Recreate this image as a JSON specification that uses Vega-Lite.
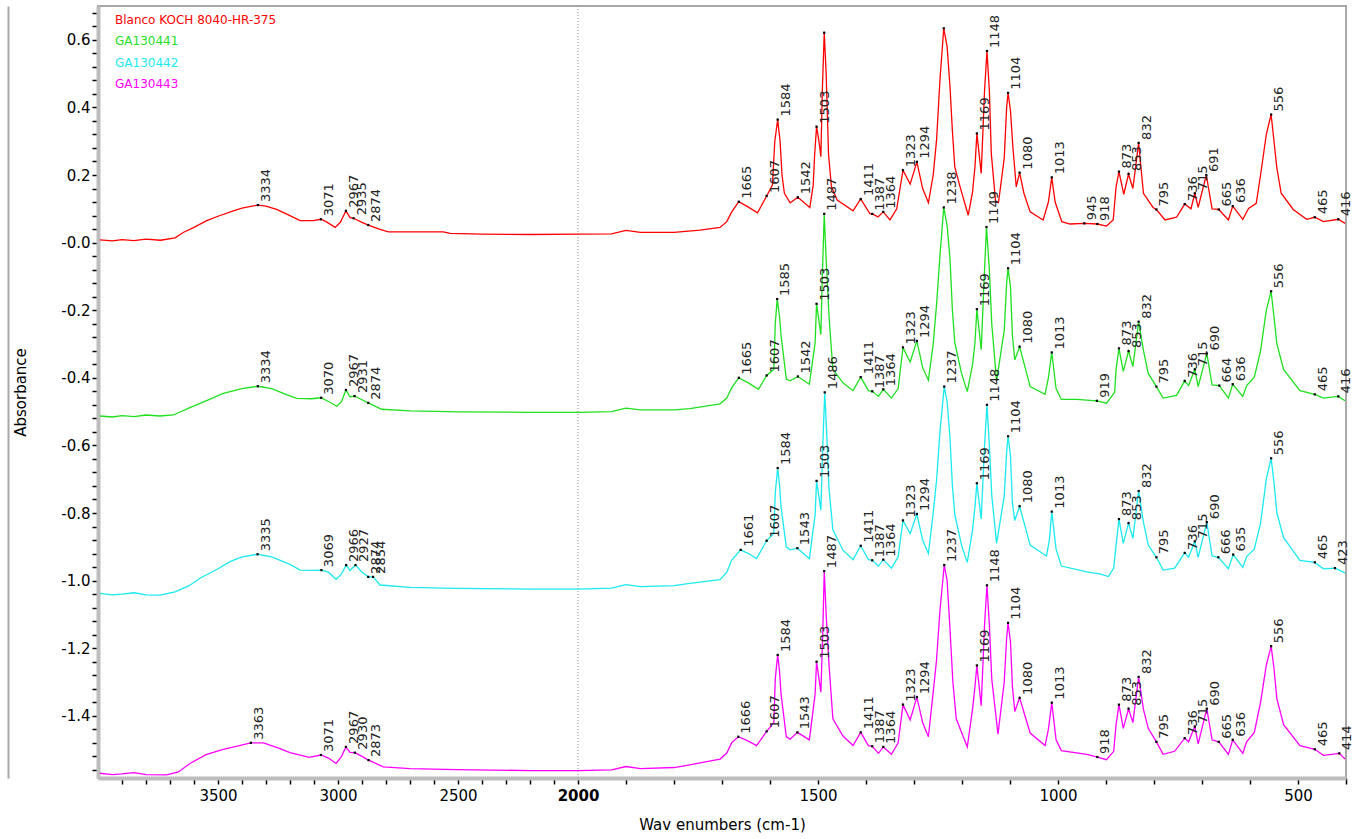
{
 "$schema": "https://vega.github.io/schema/vega-lite/v6.json",
 "width": 1248, "height": 772,
 "autosize": {"type": "none"},
 "padding": {"left": 98, "top": 6, "right": 12, "bottom": 61},
 "background": "white",
 "config": {"view": {"stroke": "#a8a8a8", "strokeWidth": 2}, "font": "DejaVu Sans", "axis": {"labelOverlap": false, "domain": true, "ticks": true}},
 "datasets": {
  "spec": [
{"s":"r","w":3992,"a":0.008},{"s":"r","w":3940,"a":0.005},{"s":"r","w":3900,"a":0.009},{"s":"r","w":3850,"a":0.006},{"s":"r","w":3800,"a":0.01},{"s":"r","w":3740,"a":0.007},{"s":"r","w":3679,"a":0.014},{"s":"r","w":3645,"a":0.03},{"s":"r","w":3600,"a":0.045},{"s":"r","w":3547,"a":0.065},{"s":"r","w":3500,"a":0.078},{"s":"r","w":3436,"a":0.094},{"s":"r","w":3400,"a":0.102},{"s":"r","w":3334,"a":0.111},{"s":"r","w":3300,"a":0.108},{"s":"r","w":3256,"a":0.098},{"s":"r","w":3200,"a":0.08},{"s":"r","w":3158,"a":0.065},{"s":"r","w":3103,"a":0.065},{"s":"r","w":3071,"a":0.069},{"s":"r","w":3050,"a":0.062},{"s":"r","w":3012,"a":0.045},{"s":"r","w":2990,"a":0.06},{"s":"r","w":2967,"a":0.094},{"s":"r","w":2950,"a":0.074},{"s":"r","w":2935,"a":0.072},{"s":"r","w":2900,"a":0.06},{"s":"r","w":2874,"a":0.052},{"s":"r","w":2825,"a":0.039},{"s":"r","w":2790,"a":0.032},{"s":"r","w":2700,"a":0.032},{"s":"r","w":2561,"a":0.032},{"s":"r","w":2533,"a":0.027},{"s":"r","w":2400,"a":0.025},{"s":"r","w":2200,"a":0.024},{"s":"r","w":2000,"a":0.025},{"s":"r","w":1930,"a":0.026},{"s":"r","w":1900,"a":0.036},{"s":"r","w":1870,"a":0.03},{"s":"r","w":1800,"a":0.03},{"s":"r","w":1746,"a":0.037},{"s":"r","w":1704,"a":0.045},{"s":"r","w":1690,"a":0.062},{"s":"r","w":1680,"a":0.09},{"s":"r","w":1665,"a":0.121},{"s":"r","w":1645,"a":0.105},{"s":"r","w":1626,"a":0.088},{"s":"r","w":1607,"a":0.138},{"s":"r","w":1595,"a":0.17},{"s":"r","w":1590,"a":0.3},{"s":"r","w":1584,"a":0.364},{"s":"r","w":1579,"a":0.3},{"s":"r","w":1575,"a":0.2},{"s":"r","w":1570,"a":0.146},{"s":"r","w":1558,"a":0.118},{"s":"r","w":1542,"a":0.134},{"s":"r","w":1517,"a":0.104},{"s":"r","w":1510,"a":0.17},{"s":"r","w":1507,"a":0.26},{"s":"r","w":1503,"a":0.343},{"s":"r","w":1498,"a":0.3},{"s":"r","w":1494,"a":0.254},{"s":"r","w":1491,"a":0.45},{"s":"r","w":1487,"a":0.621},{"s":"r","w":1483,"a":0.5},{"s":"r","w":1478,"a":0.26},{"s":"r","w":1472,"a":0.165},{"s":"r","w":1460,"a":0.126},{"s":"r","w":1427,"a":0.094},{"s":"r","w":1411,"a":0.129},{"s":"r","w":1392,"a":0.086},{"s":"r","w":1387,"a":0.085},{"s":"r","w":1375,"a":0.076},{"s":"r","w":1364,"a":0.091},{"s":"r","w":1350,"a":0.067},{"s":"r","w":1336,"a":0.1},{"s":"r","w":1323,"a":0.214},{"s":"r","w":1308,"a":0.173},{"s":"r","w":1294,"a":0.239},{"s":"r","w":1282,"a":0.16},{"s":"r","w":1270,"a":0.118},{"s":"r","w":1260,"a":0.2},{"s":"r","w":1253,"a":0.303},{"s":"r","w":1246,"a":0.48},{"s":"r","w":1238,"a":0.634},{"s":"r","w":1231,"a":0.58},{"s":"r","w":1225,"a":0.461},{"s":"r","w":1220,"a":0.33},{"s":"r","w":1215,"a":0.224},{"s":"r","w":1204,"a":0.165},{"s":"r","w":1187,"a":0.081},{"s":"r","w":1178,"a":0.15},{"s":"r","w":1173,"a":0.224},{"s":"r","w":1169,"a":0.323},{"s":"r","w":1160,"a":0.205},{"s":"r","w":1153,"a":0.45},{"s":"r","w":1148,"a":0.567},{"s":"r","w":1143,"a":0.45},{"s":"r","w":1139,"a":0.264},{"s":"r","w":1130,"a":0.121},{"s":"r","w":1124,"a":0.118},{"s":"r","w":1112,"a":0.25},{"s":"r","w":1107,"a":0.4},{"s":"r","w":1104,"a":0.443},{"s":"r","w":1099,"a":0.39},{"s":"r","w":1094,"a":0.283},{"s":"r","w":1087,"a":0.165},{"s":"r","w":1080,"a":0.207},{"s":"r","w":1071,"a":0.146},{"s":"r","w":1058,"a":0.091},{"s":"r","w":1031,"a":0.067},{"s":"r","w":1020,"a":0.12},{"s":"r","w":1013,"a":0.193},{"s":"r","w":1006,"a":0.12},{"s":"r","w":992,"a":0.062},{"s":"r","w":975,"a":0.055},{"s":"r","w":945,"a":0.057},{"s":"r","w":918,"a":0.055},{"s":"r","w":899,"a":0.049},{"s":"r","w":885,"a":0.067},{"s":"r","w":879,"a":0.165},{"s":"r","w":873,"a":0.21},{"s":"r","w":863,"a":0.143},{"s":"r","w":853,"a":0.203},{"s":"r","w":844,"a":0.16},{"s":"r","w":832,"a":0.295},{"s":"r","w":822,"a":0.146},{"s":"r","w":802,"a":0.104},{"s":"r","w":795,"a":0.098},{"s":"r","w":777,"a":0.067},{"s":"r","w":753,"a":0.075},{"s":"r","w":736,"a":0.114},{"s":"r","w":723,"a":0.1},{"s":"r","w":715,"a":0.146},{"s":"r","w":708,"a":0.104},{"s":"r","w":691,"a":0.2},{"s":"r","w":679,"a":0.1},{"s":"r","w":665,"a":0.098},{"s":"r","w":645,"a":0.067},{"s":"r","w":636,"a":0.108},{"s":"r","w":615,"a":0.069},{"s":"r","w":603,"a":0.101},{"s":"r","w":587,"a":0.116},{"s":"r","w":578,"a":0.2},{"s":"r","w":566,"a":0.32},{"s":"r","w":556,"a":0.379},{"s":"r","w":550,"a":0.3},{"s":"r","w":544,"a":0.22},{"s":"r","w":535,"a":0.146},{"s":"r","w":510,"a":0.098},{"s":"r","w":482,"a":0.069},{"s":"r","w":465,"a":0.075},{"s":"r","w":447,"a":0.062},{"s":"r","w":416,"a":0.069},{"s":"r","w":402,"a":0.057},
{"s":"g","w":3992,"a":-0.513},{"s":"g","w":3940,"a":-0.516},{"s":"g","w":3900,"a":-0.512},{"s":"g","w":3850,"a":-0.515},{"s":"g","w":3800,"a":-0.51},{"s":"g","w":3742,"a":-0.513},{"s":"g","w":3686,"a":-0.51},{"s":"g","w":3617,"a":-0.488},{"s":"g","w":3550,"a":-0.468},{"s":"g","w":3478,"a":-0.446},{"s":"g","w":3400,"a":-0.432},{"s":"g","w":3334,"a":-0.425},{"s":"g","w":3276,"a":-0.432},{"s":"g","w":3220,"a":-0.448},{"s":"g","w":3172,"a":-0.461},{"s":"g","w":3110,"a":-0.462},{"s":"g","w":3070,"a":-0.459},{"s":"g","w":3040,"a":-0.47},{"s":"g","w":3005,"a":-0.484},{"s":"g","w":2985,"a":-0.47},{"s":"g","w":2967,"a":-0.436},{"s":"g","w":2950,"a":-0.456},{"s":"g","w":2931,"a":-0.454},{"s":"g","w":2900,"a":-0.465},{"s":"g","w":2874,"a":-0.474},{"s":"g","w":2818,"a":-0.493},{"s":"g","w":2700,"a":-0.498},{"s":"g","w":2492,"a":-0.501},{"s":"g","w":2200,"a":-0.502},{"s":"g","w":2000,"a":-0.502},{"s":"g","w":1930,"a":-0.5},{"s":"g","w":1900,"a":-0.49},{"s":"g","w":1870,"a":-0.495},{"s":"g","w":1800,"a":-0.495},{"s":"g","w":1767,"a":-0.491},{"s":"g","w":1704,"a":-0.477},{"s":"g","w":1690,"a":-0.46},{"s":"g","w":1680,"a":-0.43},{"s":"g","w":1665,"a":-0.4},{"s":"g","w":1645,"a":-0.415},{"s":"g","w":1624,"a":-0.434},{"s":"g","w":1607,"a":-0.393},{"s":"g","w":1592,"a":-0.375},{"s":"g","w":1589,"a":-0.24},{"s":"g","w":1585,"a":-0.167},{"s":"g","w":1580,"a":-0.22},{"s":"g","w":1577,"a":-0.274},{"s":"g","w":1566,"a":-0.404},{"s":"g","w":1558,"a":-0.409},{"s":"g","w":1542,"a":-0.396},{"s":"g","w":1518,"a":-0.419},{"s":"g","w":1506,"a":-0.296},{"s":"g","w":1503,"a":-0.181},{"s":"g","w":1494,"a":-0.272},{"s":"g","w":1491,"a":-0.1},{"s":"g","w":1487,"a":0.085},{"s":"g","w":1483,"a":-0.05},{"s":"g","w":1477,"a":-0.22},{"s":"g","w":1469,"a":-0.375},{"s":"g","w":1448,"a":-0.415},{"s":"g","w":1427,"a":-0.438},{"s":"g","w":1411,"a":-0.398},{"s":"g","w":1395,"a":-0.438},{"s":"g","w":1387,"a":-0.44},{"s":"g","w":1374,"a":-0.455},{"s":"g","w":1364,"a":-0.434},{"s":"g","w":1347,"a":-0.46},{"s":"g","w":1333,"a":-0.432},{"s":"g","w":1323,"a":-0.31},{"s":"g","w":1308,"a":-0.353},{"s":"g","w":1294,"a":-0.291},{"s":"g","w":1282,"a":-0.37},{"s":"g","w":1270,"a":-0.407},{"s":"g","w":1260,"a":-0.3},{"s":"g","w":1253,"a":-0.183},{"s":"g","w":1246,"a":-0.04},{"s":"g","w":1238,"a":0.104},{"s":"g","w":1231,"a":0.05},{"s":"g","w":1225,"a":-0.048},{"s":"g","w":1220,"a":-0.2},{"s":"g","w":1215,"a":-0.296},{"s":"g","w":1201,"a":-0.387},{"s":"g","w":1189,"a":-0.441},{"s":"g","w":1178,"a":-0.36},{"s":"g","w":1173,"a":-0.296},{"s":"g","w":1169,"a":-0.197},{"s":"g","w":1160,"a":-0.317},{"s":"g","w":1153,"a":-0.08},{"s":"g","w":1149,"a":0.046},{"s":"g","w":1143,"a":-0.08},{"s":"g","w":1138,"a":-0.24},{"s":"g","w":1128,"a":-0.409},{"s":"g","w":1112,"a":-0.26},{"s":"g","w":1107,"a":-0.12},{"s":"g","w":1104,"a":-0.076},{"s":"g","w":1099,"a":-0.13},{"s":"g","w":1095,"a":-0.274},{"s":"g","w":1090,"a":-0.347},{"s":"g","w":1080,"a":-0.308},{"s":"g","w":1058,"a":-0.426},{"s":"g","w":1027,"a":-0.449},{"s":"g","w":1020,"a":-0.4},{"s":"g","w":1013,"a":-0.325},{"s":"g","w":1004,"a":-0.432},{"s":"g","w":993,"a":-0.464},{"s":"g","w":961,"a":-0.464},{"s":"g","w":919,"a":-0.468},{"s":"g","w":899,"a":-0.475},{"s":"g","w":882,"a":-0.443},{"s":"g","w":879,"a":-0.375},{"s":"g","w":873,"a":-0.313},{"s":"g","w":864,"a":-0.381},{"s":"g","w":853,"a":-0.321},{"s":"g","w":844,"a":-0.367},{"s":"g","w":832,"a":-0.234},{"s":"g","w":822,"a":-0.319},{"s":"g","w":812,"a":-0.387},{"s":"g","w":795,"a":-0.426},{"s":"g","w":781,"a":-0.46},{"s":"g","w":753,"a":-0.452},{"s":"g","w":736,"a":-0.409},{"s":"g","w":728,"a":-0.423},{"s":"g","w":715,"a":-0.375},{"s":"g","w":708,"a":-0.426},{"s":"g","w":690,"a":-0.328},{"s":"g","w":679,"a":-0.421},{"s":"g","w":664,"a":-0.423},{"s":"g","w":645,"a":-0.46},{"s":"g","w":636,"a":-0.419},{"s":"g","w":615,"a":-0.455},{"s":"g","w":607,"a":-0.423},{"s":"g","w":591,"a":-0.398},{"s":"g","w":578,"a":-0.32},{"s":"g","w":566,"a":-0.2},{"s":"g","w":556,"a":-0.144},{"s":"g","w":550,"a":-0.22},{"s":"g","w":544,"a":-0.3},{"s":"g","w":530,"a":-0.375},{"s":"g","w":496,"a":-0.438},{"s":"g","w":465,"a":-0.449},{"s":"g","w":447,"a":-0.46},{"s":"g","w":416,"a":-0.455},{"s":"g","w":402,"a":-0.468},
{"s":"c","w":3992,"a":-1.038},{"s":"c","w":3940,"a":-1.042},{"s":"c","w":3900,"a":-1.04},{"s":"c","w":3850,"a":-1.036},{"s":"c","w":3800,"a":-1.042},{"s":"c","w":3742,"a":-1.043},{"s":"c","w":3679,"a":-1.033},{"s":"c","w":3620,"a":-1.015},{"s":"c","w":3575,"a":-0.993},{"s":"c","w":3500,"a":-0.965},{"s":"c","w":3450,"a":-0.944},{"s":"c","w":3400,"a":-0.93},{"s":"c","w":3335,"a":-0.922},{"s":"c","w":3276,"a":-0.93},{"s":"c","w":3200,"a":-0.952},{"s":"c","w":3158,"a":-0.969},{"s":"c","w":3100,"a":-0.97},{"s":"c","w":3069,"a":-0.969},{"s":"c","w":3040,"a":-0.975},{"s":"c","w":3008,"a":-0.996},{"s":"c","w":2985,"a":-0.98},{"s":"c","w":2966,"a":-0.954},{"s":"c","w":2950,"a":-0.97},{"s":"c","w":2927,"a":-0.954},{"s":"c","w":2900,"a":-0.975},{"s":"c","w":2874,"a":-0.989},{"s":"c","w":2854,"a":-0.989},{"s":"c","w":2825,"a":-1.013},{"s":"c","w":2700,"a":-1.02},{"s":"c","w":2505,"a":-1.023},{"s":"c","w":2200,"a":-1.025},{"s":"c","w":2000,"a":-1.025},{"s":"c","w":1930,"a":-1.022},{"s":"c","w":1900,"a":-1.012},{"s":"c","w":1870,"a":-1.018},{"s":"c","w":1800,"a":-1.015},{"s":"c","w":1767,"a":-1.008},{"s":"c","w":1704,"a":-0.997},{"s":"c","w":1690,"a":-0.975},{"s":"c","w":1680,"a":-0.94},{"s":"c","w":1661,"a":-0.909},{"s":"c","w":1645,"a":-0.92},{"s":"c","w":1628,"a":-0.935},{"s":"c","w":1607,"a":-0.882},{"s":"c","w":1592,"a":-0.86},{"s":"c","w":1589,"a":-0.74},{"s":"c","w":1584,"a":-0.667},{"s":"c","w":1580,"a":-0.72},{"s":"c","w":1577,"a":-0.782},{"s":"c","w":1566,"a":-0.901},{"s":"c","w":1558,"a":-0.909},{"s":"c","w":1543,"a":-0.904},{"s":"c","w":1518,"a":-0.935},{"s":"c","w":1506,"a":-0.805},{"s":"c","w":1503,"a":-0.705},{"s":"c","w":1494,"a":-0.791},{"s":"c","w":1490,"a":-0.6},{"s":"c","w":1486,"a":-0.443},{"s":"c","w":1482,"a":-0.56},{"s":"c","w":1477,"a":-0.73},{"s":"c","w":1469,"a":-0.85},{"s":"c","w":1448,"a":-0.91},{"s":"c","w":1427,"a":-0.938},{"s":"c","w":1411,"a":-0.897},{"s":"c","w":1395,"a":-0.938},{"s":"c","w":1387,"a":-0.94},{"s":"c","w":1374,"a":-0.957},{"s":"c","w":1364,"a":-0.938},{"s":"c","w":1347,"a":-0.963},{"s":"c","w":1333,"a":-0.93},{"s":"c","w":1323,"a":-0.822},{"s":"c","w":1308,"a":-0.861},{"s":"c","w":1294,"a":-0.803},{"s":"c","w":1282,"a":-0.88},{"s":"c","w":1270,"a":-0.92},{"s":"c","w":1260,"a":-0.8},{"s":"c","w":1253,"a":-0.703},{"s":"c","w":1246,"a":-0.56},{"s":"c","w":1237,"a":-0.426},{"s":"c","w":1231,"a":-0.47},{"s":"c","w":1225,"a":-0.579},{"s":"c","w":1220,"a":-0.72},{"s":"c","w":1215,"a":-0.805},{"s":"c","w":1201,"a":-0.895},{"s":"c","w":1189,"a":-0.946},{"s":"c","w":1178,"a":-0.85},{"s":"c","w":1173,"a":-0.782},{"s":"c","w":1169,"a":-0.712},{"s":"c","w":1160,"a":-0.818},{"s":"c","w":1153,"a":-0.6},{"s":"c","w":1148,"a":-0.48},{"s":"c","w":1143,"a":-0.6},{"s":"c","w":1138,"a":-0.748},{"s":"c","w":1128,"a":-0.89},{"s":"c","w":1112,"a":-0.75},{"s":"c","w":1107,"a":-0.62},{"s":"c","w":1104,"a":-0.573},{"s":"c","w":1099,"a":-0.63},{"s":"c","w":1095,"a":-0.771},{"s":"c","w":1090,"a":-0.822},{"s":"c","w":1080,"a":-0.78},{"s":"c","w":1058,"a":-0.895},{"s":"c","w":1024,"a":-0.927},{"s":"c","w":1018,"a":-0.88},{"s":"c","w":1013,"a":-0.796},{"s":"c","w":1004,"a":-0.907},{"s":"c","w":993,"a":-0.957},{"s":"c","w":940,"a":-0.974},{"s":"c","w":913,"a":-0.98},{"s":"c","w":895,"a":-0.988},{"s":"c","w":884,"a":-0.963},{"s":"c","w":879,"a":-0.895},{"s":"c","w":873,"a":-0.818},{"s":"c","w":864,"a":-0.89},{"s":"c","w":853,"a":-0.83},{"s":"c","w":844,"a":-0.875},{"s":"c","w":832,"a":-0.735},{"s":"c","w":822,"a":-0.827},{"s":"c","w":812,"a":-0.895},{"s":"c","w":795,"a":-0.931},{"s":"c","w":781,"a":-0.969},{"s":"c","w":757,"a":-0.963},{"s":"c","w":736,"a":-0.918},{"s":"c","w":728,"a":-0.931},{"s":"c","w":715,"a":-0.884},{"s":"c","w":708,"a":-0.931},{"s":"c","w":690,"a":-0.827},{"s":"c","w":679,"a":-0.927},{"s":"c","w":666,"a":-0.931},{"s":"c","w":645,"a":-0.965},{"s":"c","w":635,"a":-0.923},{"s":"c","w":615,"a":-0.961},{"s":"c","w":607,"a":-0.929},{"s":"c","w":591,"a":-0.907},{"s":"c","w":578,"a":-0.83},{"s":"c","w":566,"a":-0.7},{"s":"c","w":556,"a":-0.638},{"s":"c","w":550,"a":-0.71},{"s":"c","w":544,"a":-0.8},{"s":"c","w":530,"a":-0.873},{"s":"c","w":496,"a":-0.94},{"s":"c","w":465,"a":-0.946},{"s":"c","w":447,"a":-0.965},{"s":"c","w":423,"a":-0.963},{"s":"c","w":402,"a":-0.977},
{"s":"m","w":3992,"a":-1.57},{"s":"m","w":3940,"a":-1.574},{"s":"m","w":3900,"a":-1.572},{"s":"m","w":3850,"a":-1.568},{"s":"m","w":3800,"a":-1.574},{"s":"m","w":3714,"a":-1.575},{"s":"m","w":3665,"a":-1.566},{"s":"m","w":3617,"a":-1.541},{"s":"m","w":3550,"a":-1.515},{"s":"m","w":3478,"a":-1.499},{"s":"m","w":3420,"a":-1.49},{"s":"m","w":3363,"a":-1.48},{"s":"m","w":3311,"a":-1.48},{"s":"m","w":3250,"a":-1.495},{"s":"m","w":3200,"a":-1.509},{"s":"m","w":3120,"a":-1.523},{"s":"m","w":3071,"a":-1.516},{"s":"m","w":3040,"a":-1.525},{"s":"m","w":3008,"a":-1.541},{"s":"m","w":2985,"a":-1.52},{"s":"m","w":2967,"a":-1.492},{"s":"m","w":2950,"a":-1.508},{"s":"m","w":2930,"a":-1.509},{"s":"m","w":2900,"a":-1.52},{"s":"m","w":2873,"a":-1.531},{"s":"m","w":2811,"a":-1.551},{"s":"m","w":2700,"a":-1.556},{"s":"m","w":2505,"a":-1.559},{"s":"m","w":2200,"a":-1.562},{"s":"m","w":2000,"a":-1.562},{"s":"m","w":1930,"a":-1.56},{"s":"m","w":1900,"a":-1.55},{"s":"m","w":1870,"a":-1.556},{"s":"m","w":1800,"a":-1.553},{"s":"m","w":1767,"a":-1.545},{"s":"m","w":1704,"a":-1.528},{"s":"m","w":1690,"a":-1.51},{"s":"m","w":1680,"a":-1.48},{"s":"m","w":1666,"a":-1.462},{"s":"m","w":1645,"a":-1.475},{"s":"m","w":1628,"a":-1.488},{"s":"m","w":1607,"a":-1.446},{"s":"m","w":1592,"a":-1.42},{"s":"m","w":1589,"a":-1.29},{"s":"m","w":1584,"a":-1.22},{"s":"m","w":1580,"a":-1.27},{"s":"m","w":1577,"a":-1.336},{"s":"m","w":1566,"a":-1.462},{"s":"m","w":1558,"a":-1.469},{"s":"m","w":1543,"a":-1.449},{"s":"m","w":1518,"a":-1.471},{"s":"m","w":1506,"a":-1.336},{"s":"m","w":1503,"a":-1.24},{"s":"m","w":1494,"a":-1.33},{"s":"m","w":1490,"a":-1.15},{"s":"m","w":1487,"a":-0.972},{"s":"m","w":1483,"a":-1.1},{"s":"m","w":1477,"a":-1.25},{"s":"m","w":1469,"a":-1.409},{"s":"m","w":1448,"a":-1.46},{"s":"m","w":1427,"a":-1.488},{"s":"m","w":1411,"a":-1.449},{"s":"m","w":1395,"a":-1.488},{"s":"m","w":1387,"a":-1.49},{"s":"m","w":1374,"a":-1.511},{"s":"m","w":1364,"a":-1.492},{"s":"m","w":1347,"a":-1.514},{"s":"m","w":1333,"a":-1.48},{"s":"m","w":1323,"a":-1.367},{"s":"m","w":1308,"a":-1.412},{"s":"m","w":1294,"a":-1.345},{"s":"m","w":1282,"a":-1.42},{"s":"m","w":1270,"a":-1.462},{"s":"m","w":1260,"a":-1.33},{"s":"m","w":1253,"a":-1.234},{"s":"m","w":1246,"a":-1.09},{"s":"m","w":1237,"a":-0.954},{"s":"m","w":1231,"a":-1.0},{"s":"m","w":1225,"a":-1.144},{"s":"m","w":1219,"a":-1.3},{"s":"m","w":1212,"a":-1.409},{"s":"m","w":1189,"a":-1.492},{"s":"m","w":1178,"a":-1.38},{"s":"m","w":1173,"a":-1.313},{"s":"m","w":1169,"a":-1.251},{"s":"m","w":1160,"a":-1.37},{"s":"m","w":1153,"a":-1.13},{"s":"m","w":1148,"a":-1.014},{"s":"m","w":1143,"a":-1.13},{"s":"m","w":1138,"a":-1.291},{"s":"m","w":1125,"a":-1.454},{"s":"m","w":1112,"a":-1.3},{"s":"m","w":1107,"a":-1.17},{"s":"m","w":1104,"a":-1.125},{"s":"m","w":1099,"a":-1.18},{"s":"m","w":1095,"a":-1.313},{"s":"m","w":1090,"a":-1.387},{"s":"m","w":1080,"a":-1.347},{"s":"m","w":1058,"a":-1.451},{"s":"m","w":1027,"a":-1.488},{"s":"m","w":1020,"a":-1.44},{"s":"m","w":1013,"a":-1.361},{"s":"m","w":1004,"a":-1.471},{"s":"m","w":993,"a":-1.503},{"s":"m","w":940,"a":-1.514},{"s":"m","w":918,"a":-1.522},{"s":"m","w":899,"a":-1.53},{"s":"m","w":884,"a":-1.505},{"s":"m","w":879,"a":-1.426},{"s":"m","w":873,"a":-1.367},{"s":"m","w":864,"a":-1.437},{"s":"m","w":853,"a":-1.379},{"s":"m","w":844,"a":-1.42},{"s":"m","w":832,"a":-1.285},{"s":"m","w":822,"a":-1.381},{"s":"m","w":812,"a":-1.437},{"s":"m","w":795,"a":-1.477},{"s":"m","w":781,"a":-1.514},{"s":"m","w":757,"a":-1.505},{"s":"m","w":736,"a":-1.466},{"s":"m","w":728,"a":-1.477},{"s":"m","w":715,"a":-1.432},{"s":"m","w":708,"a":-1.483},{"s":"m","w":690,"a":-1.379},{"s":"m","w":679,"a":-1.471},{"s":"m","w":665,"a":-1.477},{"s":"m","w":645,"a":-1.514},{"s":"m","w":636,"a":-1.471},{"s":"m","w":615,"a":-1.511},{"s":"m","w":607,"a":-1.477},{"s":"m","w":591,"a":-1.449},{"s":"m","w":578,"a":-1.36},{"s":"m","w":566,"a":-1.25},{"s":"m","w":556,"a":-1.194},{"s":"m","w":550,"a":-1.26},{"s":"m","w":544,"a":-1.35},{"s":"m","w":530,"a":-1.426},{"s":"m","w":496,"a":-1.488},{"s":"m","w":465,"a":-1.499},{"s":"m","w":447,"a":-1.517},{"s":"m","w":414,"a":-1.511},{"s":"m","w":402,"a":-1.528}
  ],
  "peaks": [
{"s":"r","w":3334,"a":0.111},{"s":"r","w":3071,"a":0.069},{"s":"r","w":2967,"a":0.094},{"s":"r","w":2935,"a":0.072},{"s":"r","w":2874,"a":0.052},{"s":"r","w":1665,"a":0.121},{"s":"r","w":1607,"a":0.138},{"s":"r","w":1584,"a":0.364},{"s":"r","w":1542,"a":0.134},{"s":"r","w":1503,"a":0.343},{"s":"r","w":1487,"a":0.621},{"s":"r","w":1411,"a":0.129},{"s":"r","w":1387,"a":0.085},{"s":"r","w":1364,"a":0.091},{"s":"r","w":1323,"a":0.214},{"s":"r","w":1294,"a":0.239},{"s":"r","w":1238,"a":0.634},{"s":"r","w":1169,"a":0.323},{"s":"r","w":1148,"a":0.567},{"s":"r","w":1104,"a":0.443},{"s":"r","w":1080,"a":0.207},{"s":"r","w":1013,"a":0.193},{"s":"r","w":945,"a":0.057},{"s":"r","w":918,"a":0.055},{"s":"r","w":873,"a":0.21},{"s":"r","w":853,"a":0.203},{"s":"r","w":832,"a":0.295},{"s":"r","w":795,"a":0.098},{"s":"r","w":736,"a":0.114},{"s":"r","w":715,"a":0.146},{"s":"r","w":691,"a":0.2},{"s":"r","w":665,"a":0.098},{"s":"r","w":636,"a":0.108},{"s":"r","w":556,"a":0.379},{"s":"r","w":465,"a":0.075},{"s":"r","w":416,"a":0.069},
{"s":"g","w":3334,"a":-0.425},{"s":"g","w":3070,"a":-0.459},{"s":"g","w":2967,"a":-0.436},{"s":"g","w":2931,"a":-0.454},{"s":"g","w":2874,"a":-0.474},{"s":"g","w":1665,"a":-0.4},{"s":"g","w":1607,"a":-0.393},{"s":"g","w":1585,"a":-0.167},{"s":"g","w":1542,"a":-0.396},{"s":"g","w":1503,"a":-0.181},{"s":"g","w":1487,"a":0.085},{"s":"g","w":1411,"a":-0.398},{"s":"g","w":1387,"a":-0.44},{"s":"g","w":1364,"a":-0.434},{"s":"g","w":1323,"a":-0.31},{"s":"g","w":1294,"a":-0.291},{"s":"g","w":1238,"a":0.104},{"s":"g","w":1169,"a":-0.197},{"s":"g","w":1149,"a":0.046},{"s":"g","w":1104,"a":-0.076},{"s":"g","w":1080,"a":-0.308},{"s":"g","w":1013,"a":-0.325},{"s":"g","w":919,"a":-0.468},{"s":"g","w":873,"a":-0.313},{"s":"g","w":853,"a":-0.321},{"s":"g","w":832,"a":-0.234},{"s":"g","w":795,"a":-0.426},{"s":"g","w":736,"a":-0.409},{"s":"g","w":715,"a":-0.375},{"s":"g","w":690,"a":-0.328},{"s":"g","w":664,"a":-0.423},{"s":"g","w":636,"a":-0.419},{"s":"g","w":556,"a":-0.144},{"s":"g","w":465,"a":-0.449},{"s":"g","w":416,"a":-0.455},
{"s":"c","w":3335,"a":-0.922},{"s":"c","w":3069,"a":-0.969},{"s":"c","w":2966,"a":-0.954},{"s":"c","w":2927,"a":-0.954},{"s":"c","w":2874,"a":-0.989},{"s":"c","w":2854,"a":-0.989},{"s":"c","w":1661,"a":-0.909},{"s":"c","w":1607,"a":-0.882},{"s":"c","w":1584,"a":-0.667},{"s":"c","w":1543,"a":-0.904},{"s":"c","w":1503,"a":-0.705},{"s":"c","w":1486,"a":-0.443},{"s":"c","w":1411,"a":-0.897},{"s":"c","w":1387,"a":-0.94},{"s":"c","w":1364,"a":-0.938},{"s":"c","w":1323,"a":-0.822},{"s":"c","w":1294,"a":-0.803},{"s":"c","w":1237,"a":-0.426},{"s":"c","w":1169,"a":-0.712},{"s":"c","w":1148,"a":-0.48},{"s":"c","w":1104,"a":-0.573},{"s":"c","w":1080,"a":-0.78},{"s":"c","w":1013,"a":-0.796},{"s":"c","w":873,"a":-0.818},{"s":"c","w":853,"a":-0.83},{"s":"c","w":832,"a":-0.735},{"s":"c","w":795,"a":-0.931},{"s":"c","w":736,"a":-0.918},{"s":"c","w":715,"a":-0.884},{"s":"c","w":690,"a":-0.827},{"s":"c","w":666,"a":-0.931},{"s":"c","w":635,"a":-0.923},{"s":"c","w":556,"a":-0.638},{"s":"c","w":465,"a":-0.946},{"s":"c","w":423,"a":-0.963},
{"s":"m","w":3363,"a":-1.48},{"s":"m","w":3071,"a":-1.516},{"s":"m","w":2967,"a":-1.492},{"s":"m","w":2930,"a":-1.509},{"s":"m","w":2873,"a":-1.531},{"s":"m","w":1666,"a":-1.462},{"s":"m","w":1607,"a":-1.446},{"s":"m","w":1584,"a":-1.22},{"s":"m","w":1543,"a":-1.449},{"s":"m","w":1503,"a":-1.24},{"s":"m","w":1487,"a":-0.972},{"s":"m","w":1411,"a":-1.449},{"s":"m","w":1387,"a":-1.49},{"s":"m","w":1364,"a":-1.492},{"s":"m","w":1323,"a":-1.367},{"s":"m","w":1294,"a":-1.345},{"s":"m","w":1237,"a":-0.954},{"s":"m","w":1169,"a":-1.251},{"s":"m","w":1148,"a":-1.014},{"s":"m","w":1104,"a":-1.125},{"s":"m","w":1080,"a":-1.347},{"s":"m","w":1013,"a":-1.361},{"s":"m","w":918,"a":-1.522},{"s":"m","w":873,"a":-1.367},{"s":"m","w":853,"a":-1.379},{"s":"m","w":832,"a":-1.285},{"s":"m","w":795,"a":-1.477},{"s":"m","w":736,"a":-1.466},{"s":"m","w":715,"a":-1.432},{"s":"m","w":690,"a":-1.379},{"s":"m","w":665,"a":-1.477},{"s":"m","w":636,"a":-1.471},{"s":"m","w":556,"a":-1.194},{"s":"m","w":465,"a":-1.499},{"s":"m","w":414,"a":-1.511}
  ],
  "ref": [{"w": 2000}]
 },
 "encoding": {
  "x": {"field": "w", "type": "quantitative",
   "scale": {"type": "linear", "domain": [4000, 2000, 400], "range": [0, 480, 1248], "nice": false, "zero": false},
   "axis": {
    "values": [400,500,600,700,800,900,1000,1100,1200,1300,1400,1500,1600,1700,1800,1900,2000,2100,2200,2300,2400,2500,2600,2700,2800,2900,3000,3100,3200,3300,3400,3500,3600,3700,3800,3900],
    "labelExpr": "datum.value % 500 == 0 ? datum.value + '' : ''",
    "labelFontWeight": {"condition": {"test": "datum.value == 2000", "value": "bold"}, "value": "normal"},
    "labelOverlap": false, "labelFlush": false,
    "labelFontSize": 15, "labelColor": "black", "labelPadding": 4,
    "tickSize": 6, "tickColor": "black", "tickWidth": 1.5,
    "domain": true, "domainColor": "#bdbdbd", "domainWidth": 4,
    "grid": false,
    "title": "Wav enumbers (cm-1)", "titleFontSize": 15, "titleFontWeight": "normal", "titleColor": "black", "titlePadding": 14
   }
  }
 },
 "layer": [
  {
   "data": {"name": "ref"},
   "mark": {"type": "rule", "color": "#8a8a8a", "strokeDash": [1, 2], "strokeWidth": 1},
   "encoding": {"x": {"field": "w", "type": "quantitative"}}
  },
  {
   "data": {"name": "spec"},
   "mark": {"type": "line", "strokeWidth": 1.3, "clip": true},
   "encoding": {
    "y": {"field": "a", "type": "quantitative",
     "scale": {"domain": [-1.584, 0.7], "nice": false, "zero": false},
     "axis": {
      "values": [-1.56,-1.52,-1.48,-1.44,-1.4,-1.36,-1.32,-1.28,-1.24,-1.2,-1.16,-1.12,-1.08,-1.04,-1,-0.96,-0.92,-0.88,-0.84,-0.8,-0.76,-0.72,-0.68,-0.64,-0.6,-0.56,-0.52,-0.48,-0.44,-0.4,-0.36,-0.32,-0.28,-0.24,-0.2,-0.16,-0.12,-0.08,-0.04,0,0.04,0.08,0.12,0.16,0.2,0.24,0.28,0.32,0.36,0.4,0.44,0.48,0.52,0.56,0.6,0.64,0.68],
      "labelExpr": "abs(datum.value*5 - round(datum.value*5)) < 0.001 ? (abs(datum.value) < 0.001 ? '-0.0' : replace(format(datum.value, '.1f'), '\u2212', '-')) : ''",
      "labelOverlap": false, "labelFlush": false,
      "labelFontSize": 15, "labelColor": "black", "labelPadding": 2,
      "tickSize": 6, "tickColor": "black", "tickWidth": 1.5,
      "domain": true, "domainColor": "#bdbdbd", "domainWidth": 4,
      "grid": false,
      "title": "Absorbance", "titleFontSize": 15, "titleFontWeight": "normal", "titleColor": "black", "titlePadding": 32
     }
    },
    "color": {"field": "s", "type": "nominal",
     "scale": {"domain": ["r", "g", "c", "m"], "range": ["#ff0000", "#1fe01f", "#1aeaf0", "#ff00ff"]},
     "legend": {
      "orient": "none", "legendX": 5, "legendY": 8, "title": null,
      "symbolSize": 0, "symbolOpacity": 0, "symbolStrokeWidth": 0, "labelOffset": 0,
      "labelFontSize": 12, "labelLimit": 400, "rowPadding": 9.4, "padding": 0,
      "labelExpr": "datum.value == 'r' ? 'Blanco KOCH 8040-HR-375' : datum.value == 'g' ? 'GA130441' : datum.value == 'c' ? 'GA130442' : 'GA130443'",
      "encode": {"labels": {"update": {"fill": {"scale": "color", "field": "value"}}}}
     }
    }
   }
  },
  {
   "data": {"name": "peaks"},
   "mark": {"type": "square", "size": 5, "color": "black", "opacity": 1, "clip": true},
   "encoding": {
    "y": {"field": "a", "type": "quantitative",
     "axis": {"orient": "left", "offset": 90, "domainColor": "#a8a8a8", "domainWidth": 2, "ticks": false, "labels": false, "title": null, "grid": false}}
   }
  },
  {
   "data": {"name": "peaks"},
   "transform": [{"filter": "datum.a < 0.6"}],
   "mark": {"type": "text", "angle": 270, "align": "left", "baseline": "middle", "dx": 3, "dy": 8, "fontSize": 13, "color": "#222222"},
   "encoding": {
    "y": {"field": "a", "type": "quantitative", "axis": null},
    "text": {"field": "w", "type": "quantitative", "format": "d"}
   }
  }
 ],
 "resolve": {"axis": {"y": "independent"}}
}
